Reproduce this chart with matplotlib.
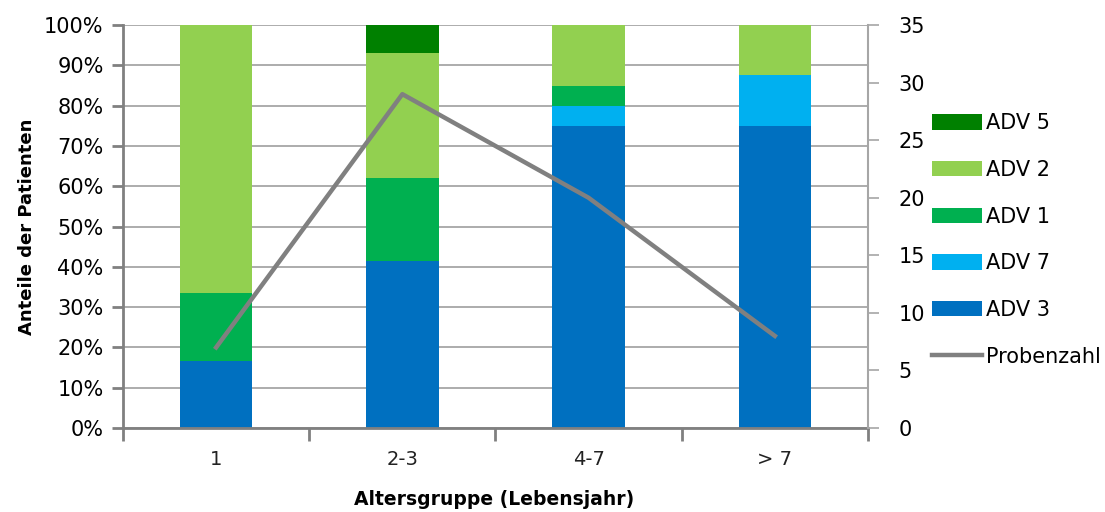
import matplotlib
matplotlib.use('Agg')

import matplotlib.pyplot as plt
import numpy as np
from matplotlib.patches import Patch
from matplotlib.lines import Line2D
from matplotlib.ticker import FuncFormatter, MultipleLocator

# Altersgruppen und Anteile je Virustyp (Anteil 0..1)
groups = ["1", "2-3", "4-7", "> 7"]
adv3 = [0.167, 0.414, 0.75, 0.75]
adv7 = [0.0, 0.0, 0.05, 0.125]
adv1 = [0.167, 0.207, 0.05, 0.0]
adv2 = [0.666, 0.310, 0.15, 0.125]
adv5 = [0.0, 0.069, 0.0, 0.0]
probenzahl = [7, 29, 20, 8]

series = [
    ("ADV 3", adv3, "#0070C0"),
    ("ADV 7", adv7, "#00B0F0"),
    ("ADV 1", adv1, "#00B050"),
    ("ADV 2", adv2, "#92D050"),
    ("ADV 5", adv5, "#008000"),
]

plt.rcParams['font.family'] = ['DejaVu Sans']

fig = plt.figure(figsize=(11.05, 5.12), dpi=100)
ax = fig.add_axes([0.1113, 0.164, 0.6742, 0.787])
x = np.arange(len(groups))

bottom = np.zeros(len(groups))
for name, vals, col in series:
    ax.bar(x, vals, width=0.39, bottom=bottom, color=col, zorder=2)
    bottom += np.array(vals)

ax.set_xlim(-0.5, len(groups) - 0.5)
ax.set_ylim(0, 1)
ax.yaxis.set_major_locator(MultipleLocator(0.1))
ax.yaxis.set_major_formatter(FuncFormatter(lambda v, p: f"{v * 100:.0f}%"))
ax.grid(axis='y', color='#A6A6A6', linewidth=1.3, zorder=0)
ax.set_axisbelow(True)

ax.set_xticks(x)
ax.set_xticklabels(groups)
ax.set_xticks(np.arange(-0.5, len(groups)), minor=True)
ax.tick_params(axis='x', which='major', length=0, pad=16, labelsize=14, labelcolor='#222222')
ax.tick_params(axis='x', which='minor', length=9, width=2, color='#808080')
ax.tick_params(axis='y', length=8, width=2, color='#808080', labelsize=15, pad=6)

for side in ['top', 'right']:
    ax.spines[side].set_visible(False)
ax.spines['left'].set_color('#808080')
ax.spines['left'].set_linewidth(2)
ax.spines['bottom'].set_color('#808080')
ax.spines['bottom'].set_linewidth(2)

ax.set_ylabel("Anteile der Patienten", fontsize=13, fontweight='bold', labelpad=6)
fig.text(0.447, 0.024, "Altersgruppe (Lebensjahr)", fontsize=13.5, fontweight='bold',
         ha='center', va='center')

# Probenzahl auf der rechten Achse
ax2 = ax.twinx()
ax2.plot(x, probenzahl, color='#808080', linewidth=3.2, zorder=3)
ax2.set_ylim(0, 35)
ax2.yaxis.set_major_locator(MultipleLocator(5))
ax2.tick_params(axis='y', length=8, width=1.2, color='#A6A6A6', labelsize=15, pad=14)
for side in ['top', 'left', 'bottom']:
    ax2.spines[side].set_visible(False)
ax2.spines['right'].set_color('#A6A6A6')
ax2.spines['right'].set_linewidth(1.5)

handles = [Patch(facecolor=col, label=name) for name, vals, col in series[::-1]]
handles.append(Line2D([0], [0], color='#808080', linewidth=3.2, label="Probenzahl"))
fig.legend(handles=handles, loc='upper left', bbox_to_anchor=(0.8355, 0.795),
           frameon=False, fontsize=15, handlelength=2.4, handleheight=0.75,
           handletextpad=0.2, labelspacing=1.28, borderaxespad=0)

fig.savefig("out.png", dpi=100)
